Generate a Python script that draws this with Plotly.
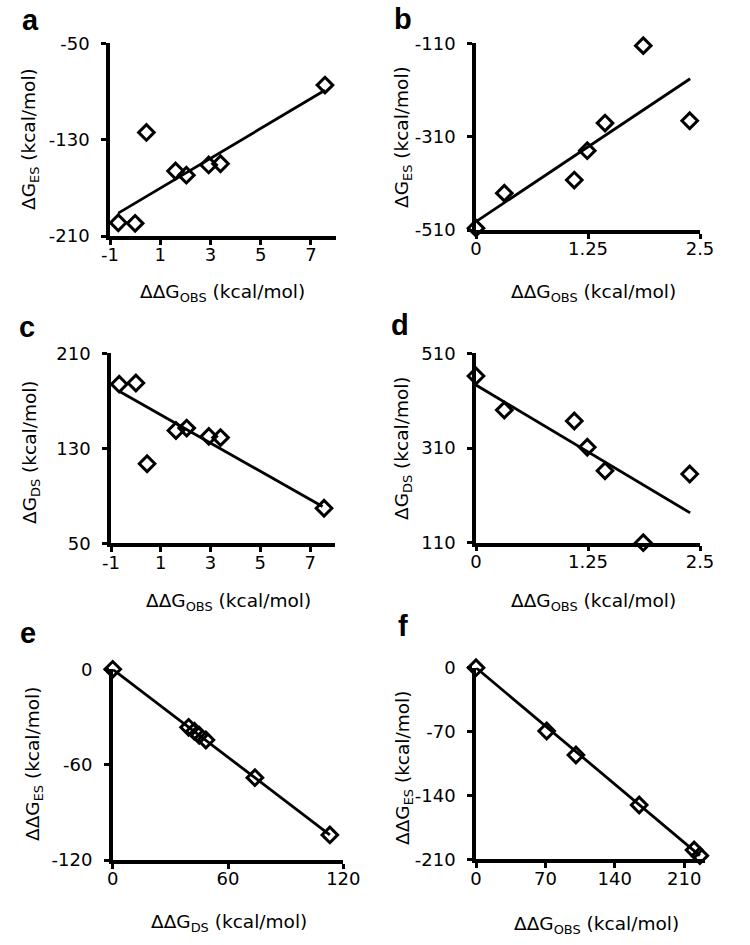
import plotly.graph_objects as go

# ---- data ----
obs_ac = [-0.67, 0.0, 0.45, 1.61, 2.04, 2.93, 3.40, 7.56]
es_a = [-199, -199.5, -124, -156, -159.5, -151, -150, -84.7]
ds_c = [184, 185, 117, 145, 147, 140, 139, 79.5]

obs_bd = [0.0, 0.316, 1.097, 1.242, 1.44, 1.867, 2.385]
es_b = [-506, -431, -403, -340, -281, -115, -276]
ds_d = [462, 390, 367, 311.5, 262, 110, 255]

dds_e = [0, 39.5, 42.5, 45, 48.5, 74, 113]
ddes_e = [0, -36.5, -39, -41.5, -44.5, -68.2, -104.2]

ddobs_f = [0, 71.3, 100.8, 164.6, 220, 225.8]
ddes_f = [0, -69.4, -95.7, -150.5, -199.8, -206]

# trend lines (end points)
trend_a_x, trend_a_y = [-0.67, 7.56], [-191, -89]
trend_b_x, trend_b_y = [0.0, 2.39], [-492, -186]
trend_c_x, trend_c_y = [-0.67, 7.5], [178, 81]
trend_d_x, trend_d_y = [0.0, 2.39], [443, 173]
trend_e_x, trend_e_y = [0, 113], [0, -104.2]
trend_f_x, trend_f_y = [0, 225.8], [0, -206]

xt_ac = [-1, 1, 3, 5, 7]
xt_bd = [0, 1.25, 2.5]
xt_bd_text = ["0", "1.25", "2.5"]
yt_a = [-210, -130, -50]
yt_b = [-510, -310, -110]
yt_c = [50, 130, 210]
yt_d = [110, 310, 510]
xt_e = [0, 60, 120]
yt_e = [-120, -60, 0]
xt_f = [0, 70, 140, 210]
yt_f = [-210, -140, -70, 0]

W, H = 750, 945
FONT = "DejaVu Sans"


def px(x):
    return x / W


def py(y):
    return 1 - y / H


panels = [
    dict(letter="a", x=obs_ac, y=es_a, tx=trend_a_x, ty=trend_a_y, xd=(110, 336), yd=(43.3, 236),
         xr=[-1, 8], yr=[-210, -50], xt=xt_ac, xtt=[str(v) for v in xt_ac], yt=yt_a,
         xtitle="ΔΔG<sub>OBS</sub> (kcal/mol)", ytitle="ΔG<sub>ES</sub> (kcal/mol)",
         lp=(30, 20), xp=(222, 293), yp=(30, 139)),
    dict(letter="b", x=obs_bd, y=es_b, tx=trend_b_x, ty=trend_b_y, xd=(476, 700), yd=(43.3, 230),
         xr=[0, 2.5], yr=[-510, -110], xt=xt_bd, xtt=xt_bd_text, yt=yt_b,
         xtitle="ΔΔG<sub>OBS</sub> (kcal/mol)", ytitle="ΔG<sub>ES</sub> (kcal/mol)",
         lp=(403, 19), xp=(593, 293), yp=(403, 137)),
    dict(letter="c", x=obs_ac, y=ds_c, tx=trend_c_x, ty=trend_c_y, xd=(111, 335), yd=(353.3, 543.3),
         xr=[-1, 8], yr=[50, 210], xt=xt_ac, xtt=[str(v) for v in xt_ac], yt=yt_c,
         xtitle="ΔΔG<sub>OBS</sub> (kcal/mol)", ytitle="ΔG<sub>DS</sub> (kcal/mol)",
         lp=(27, 327), xp=(228, 602), yp=(31, 452)),
    dict(letter="d", x=obs_bd, y=ds_d, tx=trend_d_x, ty=trend_d_y, xd=(476, 700), yd=(353.3, 542.7),
         xr=[0, 2.5], yr=[110, 510], xt=xt_bd, xtt=xt_bd_text, yt=yt_d,
         xtitle="ΔΔG<sub>OBS</sub> (kcal/mol)", ytitle="ΔG<sub>DS</sub> (kcal/mol)",
         lp=(400, 325), xp=(593, 602), yp=(403, 448)),
    dict(letter="e", x=dds_e, y=ddes_e, tx=trend_e_x, ty=trend_e_y, xd=(112.7, 343.3), yd=(669.3, 860),
         xr=[0, 120], yr=[-120, 0], xt=xt_e, xtt=[str(v) for v in xt_e], yt=yt_e,
         xtitle="ΔΔG<sub>DS</sub> (kcal/mol)", ytitle="ΔΔG<sub>ES</sub> (kcal/mol)",
         lp=(28, 633), xp=(229, 923), yp=(34, 764)),
    dict(letter="f", x=ddobs_f, y=ddes_f, tx=trend_f_x, ty=trend_f_y, xd=(476, 705), yd=(667.7, 859.3),
         xr=[0, 231], yr=[-210, 0], xt=xt_f, xtt=[str(v) for v in xt_f], yt=yt_f,
         xtitle="ΔΔG<sub>OBS</sub> (kcal/mol)", ytitle="ΔΔG<sub>ES</sub> (kcal/mol)",
         lp=(403, 626), xp=(596, 925), yp=(404, 768)),
]

fig = go.Figure()
annotations = []
layout = {}
for i, p in enumerate(panels, start=1):
    xa = "x" if i == 1 else f"x{i}"
    ya = "y" if i == 1 else f"y{i}"
    fig.add_trace(go.Scatter(x=p["tx"], y=p["ty"], mode="lines", xaxis=xa, yaxis=ya,
                             line=dict(color="black", width=2.8), showlegend=False, cliponaxis=False))
    fig.add_trace(go.Scatter(x=p["x"], y=p["y"], mode="markers", xaxis=xa, yaxis=ya,
                             marker=dict(symbol="diamond-open", size=12, color="black",
                                         line=dict(color="black", width=3)),
                             showlegend=False, cliponaxis=False))
    xkey = "xaxis" if i == 1 else f"xaxis{i}"
    ykey = "yaxis" if i == 1 else f"yaxis{i}"
    layout[xkey] = dict(domain=[px(p["xd"][0]), px(p["xd"][1])], anchor=ya, range=p["xr"],
                        tickvals=p["xt"], ticktext=p["xtt"], showgrid=False, zeroline=False,
                        automargin=False, ticklabelstandoff=-5,
                        showline=True, linecolor="black", linewidth=3.5, ticks="outside",
                        ticklen=5, tickwidth=3, tickcolor="black",
                        tickfont=dict(family=FONT, size=18, color="black"))
    layout[ykey] = dict(domain=[py(p["yd"][1]), py(p["yd"][0])], anchor=xa, range=p["yr"],
                        tickvals=p["yt"], ticktext=[str(v) for v in p["yt"]], showgrid=False,
                        automargin=False, ticklabelstandoff=8,
                        zeroline=False, showline=True, linecolor="black", linewidth=3.5,
                        ticks="outside", ticklen=5, tickwidth=3, tickcolor="black",
                        tickfont=dict(family=FONT, size=18, color="black"))
    annotations.append(dict(text=f"<b>{p['letter']}</b>", x=px(p["lp"][0]), y=py(p["lp"][1]),
                            xref="paper", yref="paper", showarrow=False, xanchor="center",
                            yanchor="middle", font=dict(family="Liberation Sans", size=29, color="black")))
    annotations.append(dict(text=p["xtitle"], x=px(p["xp"][0]), y=py(p["xp"][1]),
                            xref="paper", yref="paper", showarrow=False, xanchor="center",
                            yanchor="middle", font=dict(family=FONT, size=18.5, color="black")))
    annotations.append(dict(text=p["ytitle"], x=px(p["yp"][0]), y=py(p["yp"][1]),
                            xref="paper", yref="paper", showarrow=False, xanchor="center",
                            yanchor="middle", textangle=-90,
                            font=dict(family=FONT, size=18.5, color="black")))

fig.update_layout(template="none", width=W, height=H, margin=dict(l=0, r=0, t=0, b=0, pad=0),
                  paper_bgcolor="white", plot_bgcolor="white", showlegend=False,
                  annotations=annotations, **layout)
fig.write_html("out.html", config={"displayModeBar": False},
               post_script="document.body.style.margin='0px';")
